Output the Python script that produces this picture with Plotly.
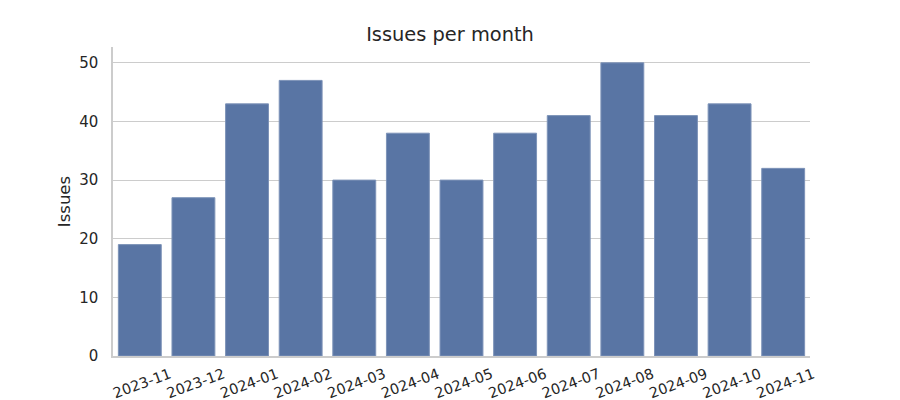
import plotly.graph_objects as go

months = ["2023-11", "2023-12", "2024-01", "2024-02", "2024-03", "2024-04", "2024-05",
          "2024-06", "2024-07", "2024-08", "2024-09", "2024-10", "2024-11"]
issues = [19, 27, 43, 47, 30, 38, 30, 38, 41, 50, 41, 43, 32]

fig = go.Figure(go.Bar(
    x=months, y=issues,
    marker=dict(color="#5975a4", line=dict(color="#7d93b8", width=1)),
))
fig.update_layout(
    width=900, height=400,
    margin=dict(l=113, r=90, t=47, b=44),
    paper_bgcolor="white", plot_bgcolor="white",
    font=dict(family="DejaVu Sans", color="#262626", size=14.5),
    title=dict(text="Issues per month", x=0.5, xanchor="center", y=0.915, yanchor="middle",
               font=dict(size=19.4, color="#262626")),
    bargap=0.2,
    showlegend=False,
)
fig.update_xaxes(type="category", tickangle=-20, showline=True, linecolor="#cccccc", linewidth=1.5,
                 showgrid=False, ticks="", tickfont=dict(size=14.5), automargin=False,
                 ticklabelshift=30, ticklabelstandoff=3)
fig.update_yaxes(range=[0, 52.7], showline=True, linecolor="#cccccc", linewidth=1.5,
                 showgrid=True, gridcolor="#cccccc", gridwidth=1, dtick=10, zeroline=False,
                 ticks="outside", ticklen=10, tickcolor="white", automargin=False,
                 title=dict(text="Issues", font=dict(size=16.5), standoff=4),
                 tickfont=dict(size=15))
fig.write_html("out.html")
